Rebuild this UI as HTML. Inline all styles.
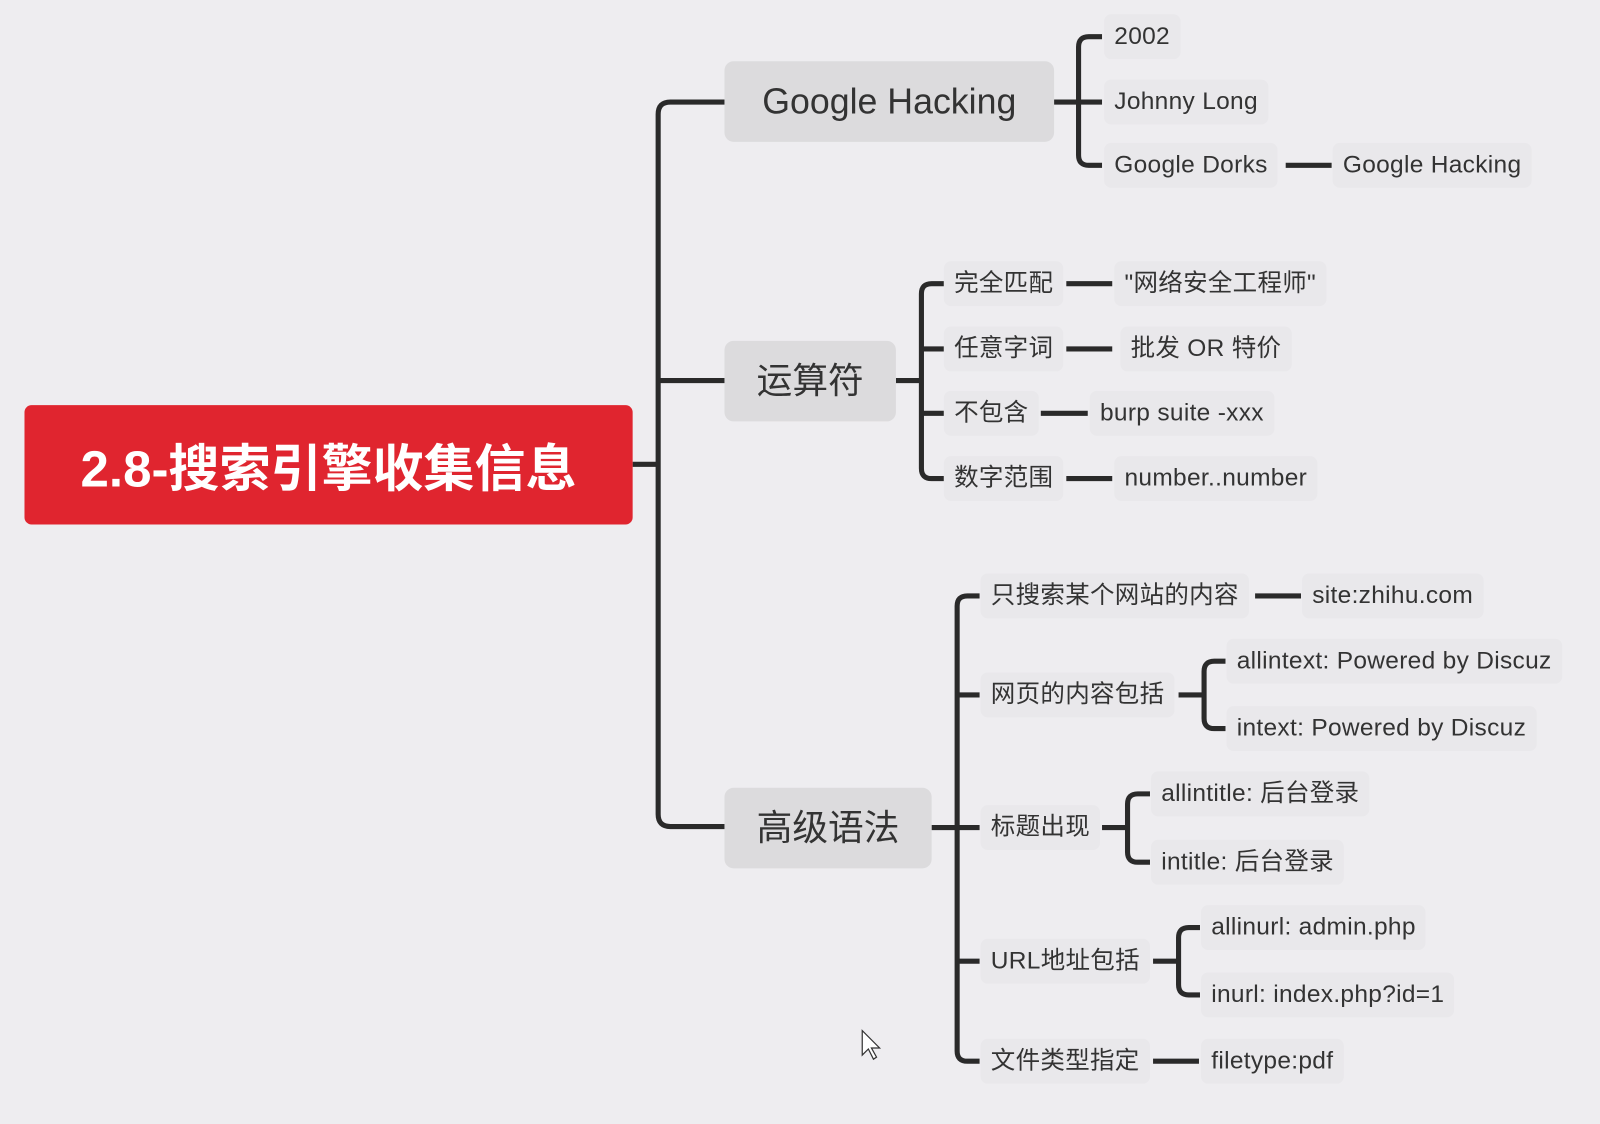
<!DOCTYPE html>
<html><head><meta charset="utf-8">
<style>
html,body{margin:0;padding:0;width:1600px;height:1124px;overflow:hidden;background:#eeedf0;}
#w{position:absolute;left:0;top:0;width:1568px;height:1102px;transform:scale(1.0204);transform-origin:0 0;}
svg{position:absolute;left:0;top:0;}
.t{position:absolute;font-family:"Liberation Sans","Noto Sans CJK SC",sans-serif;color:#333;white-space:nowrap;line-height:1;transform:translateY(-50%);}
.l{font-size:24px;letter-spacing:0.3px;background:#e9e8eb;padding:10px 10px;margin-left:-10px;border-radius:7px;}
.b{font-size:35px;background:#dcdbdd;border-radius:9px;display:flex;align-items:center;justify-content:center;transform:none;}
#root{position:absolute;left:24px;top:397px;width:596px;height:117px;background:#e0252f;border-radius:7px;color:#fff;font-family:"Liberation Sans","Noto Sans CJK SC",sans-serif;font-weight:bold;font-size:50px;display:flex;align-items:center;justify-content:center;}
</style></head><body><div id="w">
<svg width="1568" height="1102" fill="none" stroke="#2a2a2a" stroke-width="5" stroke-linecap="butt">
<path d="M620 455H645"/>
<path d="M710 100H657Q645 100 645 112V798Q645 810 657 810H710"/>
<path d="M645 373H710"/>
<path d="M1033 100H1057"/>
<path d="M1080 36H1067Q1057 36 1057 46V152Q1057 162 1067 162H1080"/>
<path d="M1057 100H1080"/>
<path d="M1260 162H1305"/>
<path d="M878 373H903"/>
<path d="M925 278H913Q903 278 903 288V459Q903 469 913 469H925"/>
<path d="M903 342H925M903 405H925"/>
<path d="M1045 278H1090M1045 342H1090M1020 405H1066M1045 469H1090"/>
<path d="M913 811H938"/>
<path d="M960 584H948Q938 584 938 594V1030Q938 1040 948 1040H960"/>
<path d="M938 681H960M938 811H960M938 942H960"/>
<path d="M1230 584H1275"/>
<path d="M1155 681H1180"/>
<path d="M1201 648H1190Q1180 648 1180 658V704Q1180 714 1190 714H1201"/>
<path d="M1080 811H1105"/>
<path d="M1127 778H1115Q1105 778 1105 788V835Q1105 845 1115 845H1127"/>
<path d="M1130 942H1155"/>
<path d="M1176 909H1165Q1155 909 1155 919V965Q1155 975 1165 975H1176"/>
<path d="M1130 1040H1175"/>
</svg>
<div id="root">2.8-搜索引擎收集信息</div>
<div class="t b" style="left:710px;top:60px;width:323px;height:79px">Google Hacking</div>
<div class="t b" style="left:710px;top:334px;width:168px;height:79px">运算符</div>
<div class="t b" style="left:710px;top:772px;width:203px;height:79px">高级语法</div>

<div class="t l" style="left:1092px;top:36px">2002</div>
<div class="t l" style="left:1092px;top:100px">Johnny Long</div>
<div class="t l" style="left:1092px;top:162px">Google Dorks</div>
<div class="t l" style="left:1316px;top:162px">Google Hacking</div>

<div class="t l" style="left:935px;top:278px">完全匹配</div>
<div class="t l" style="left:935px;top:342px">任意字词</div>
<div class="t l" style="left:935px;top:405px">不包含</div>
<div class="t l" style="left:935px;top:469px">数字范围</div>
<div class="t l" style="left:1102px;top:278px">"网络安全工程师"</div>
<div class="t l" style="left:1108px;top:342px">批发 OR 特价</div>
<div class="t l" style="left:1078px;top:405px">burp suite -xxx</div>
<div class="t l" style="left:1102px;top:469px">number..number</div>

<div class="t l" style="left:971px;top:584px">只搜索某个网站的内容</div>
<div class="t l" style="left:971px;top:681px">网页的内容包括</div>
<div class="t l" style="left:971px;top:811px">标题出现</div>
<div class="t l" style="left:971px;top:942px">URL地址包括</div>
<div class="t l" style="left:971px;top:1040px">文件类型指定</div>
<div class="t l" style="left:1286px;top:584px">site:zhihu.com</div>
<div class="t l" style="left:1212px;top:648px">allintext: Powered by Discuz</div>
<div class="t l" style="left:1212px;top:714px">intext: Powered by Discuz</div>
<div class="t l" style="left:1138px;top:778px">allintitle: 后台登录</div>
<div class="t l" style="left:1138px;top:845px">intitle: 后台登录</div>
<div class="t l" style="left:1187px;top:909px">allinurl: admin.php</div>
<div class="t l" style="left:1187px;top:975px">inurl: index.php?id=1</div>
<div class="t l" style="left:1187px;top:1040px">filetype:pdf</div>
<svg width="1568" height="1102" style="pointer-events:none"><path d="M845 1010V1034L851 1028L856 1038L859 1036L854 1027H862Z" fill="#fff" stroke="#333" stroke-width="1.2"/></svg>
</div></body></html>
